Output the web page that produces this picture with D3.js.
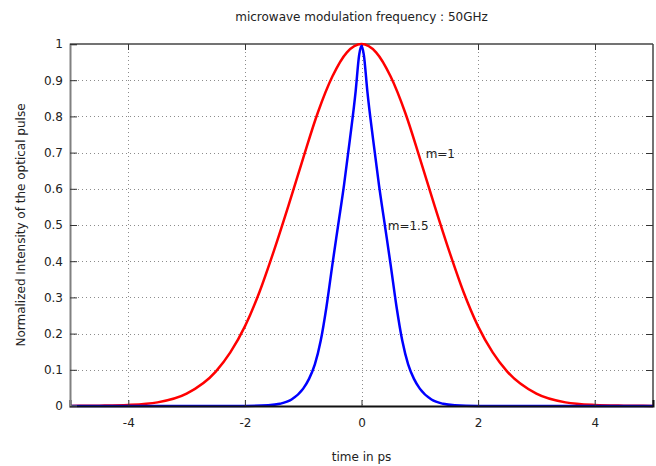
<!DOCTYPE html>
<html>
<head>
<meta charset="utf-8">
<script src="https://cdn.jsdelivr.net/npm/d3@7"></script>
<style>
  html, body { margin: 0; padding: 0; background: #ffffff; }
  svg { display: block; font-family: 'DejaVu Sans', Verdana, sans-serif; }
</style>
</head>
<body>
<svg id="chart" width="656" height="466"></svg>
<script>
// values
const xTicks = [-4, -2, 0, 2, 4];
const yTicks = [0, 0.1, 0.2, 0.3, 0.4, 0.5, 0.6, 0.7, 0.8, 0.9, 1];

// m = 1 (red)
const redTime = [-5, -4.5, -4, -3.5, -3, -2.5, -2.25, -2, -1.75, -1.5, -1.25, -1, -0.75, -0.5, -0.25,
  0, 0.25, 0.5, 0.75, 1, 1.25, 1.5, 1.75, 2, 2.25, 2.5, 3, 3.5, 4, 4.5, 5];
const redIntensity = [0.0002, 0.001, 0.003, 0.01, 0.034, 0.095, 0.148, 0.22, 0.315, 0.43, 0.555, 0.685, 0.81, 0.91, 0.977,
  1, 0.977, 0.91, 0.81, 0.685, 0.555, 0.43, 0.315, 0.22, 0.148, 0.095, 0.034, 0.01, 0.003, 0.001, 0.0002];

// m = 1.5 (blue)
const blueTime = [-5, -3, -2, -1.6, -1.4, -1.2, -1, -0.9, -0.8, -0.7, -0.6, -0.5, -0.4, -0.3, -0.2, -0.1, -0.04,
  0, 0.04, 0.1, 0.2, 0.3, 0.4, 0.5, 0.6, 0.7, 0.8, 0.9, 1, 1.2, 1.4, 1.6, 2, 3, 5];
const blueIntensity = [0, 0, 0.0003, 0.002, 0.006, 0.018, 0.048, 0.075, 0.115, 0.18, 0.275, 0.39, 0.5, 0.61, 0.735, 0.87, 0.97,
  0.995, 0.97, 0.87, 0.735, 0.61, 0.5, 0.39, 0.275, 0.18, 0.115, 0.075, 0.048, 0.018, 0.006, 0.002, 0.0003, 0, 0];

const titleText = 'microwave modulation frequency : 50GHz';
const xLabel = 'time in ps';
const yLabel = 'Normalized Intensity of the optical pulse';

const svg = d3.select('#chart');
const plot = { left: 70, right: 653, top: 44, bottom: 406 };

const x = d3.scaleLinear().domain([-5, 5]).range([plot.left, plot.right]);
const y = d3.scaleLinear().domain([0, 1]).range([plot.bottom, plot.top]);

// dotted grid
const grid = svg.append('g').attr('class', 'grid')
  .attr('stroke', '#8c8c8c')
  .attr('stroke-width', 1)
  .attr('stroke-dasharray', '1,3');

grid.selectAll('.gx')
  .data(xTicks)
  .join('line')
  .attr('class', 'gx')
  .attr('x1', d => Math.round(x(d)) + 0.5)
  .attr('x2', d => Math.round(x(d)) + 0.5)
  .attr('y1', plot.top)
  .attr('y2', plot.bottom);

grid.selectAll('.gy')
  .data(yTicks.filter(d => d > 0 && d < 1))
  .join('line')
  .attr('class', 'gy')
  .attr('x1', plot.left)
  .attr('x2', plot.right)
  .attr('y1', d => Math.round(y(d)) + 0.5)
  .attr('y2', d => Math.round(y(d)) + 0.5);

// frame: top and right border
svg.append('line')
  .attr('x1', plot.left).attr('x2', plot.right)
  .attr('y1', plot.top).attr('y2', plot.top)
  .attr('stroke', '#444').attr('stroke-width', 1.5);
svg.append('line')
  .attr('x1', plot.right).attr('x2', plot.right)
  .attr('y1', plot.top).attr('y2', plot.bottom)
  .attr('stroke', '#444').attr('stroke-width', 1.5);

// mirrored ticks on top / right
svg.append('g').selectAll('line')
  .data(xTicks)
  .join('line')
  .attr('x1', d => Math.round(x(d)) + 0.5)
  .attr('x2', d => Math.round(x(d)) + 0.5)
  .attr('y1', plot.top)
  .attr('y2', plot.top + 6)
  .attr('stroke', '#333');
svg.append('g').selectAll('line')
  .data(yTicks.filter(d => d > 0 && d < 1))
  .join('line')
  .attr('x1', plot.right - 7)
  .attr('x2', plot.right)
  .attr('y1', d => Math.round(y(d)) + 0.5)
  .attr('y2', d => Math.round(y(d)) + 0.5)
  .attr('stroke', '#333');

// curves
const line = d3.line()
  .x(d => x(d[0]))
  .y(d => y(d[1]))
  .curve(d3.curveMonotoneX);

const redPoints = redTime.map((t, i) => [t, redIntensity[i]]);
const bluePoints = blueTime.map((t, i) => [t, blueIntensity[i]]);

svg.append('path')
  .datum(redPoints)
  .attr('fill', 'none')
  .attr('stroke', '#ff0000')
  .attr('stroke-width', 2.5)
  .attr('d', line);

svg.append('path')
  .datum(bluePoints)
  .attr('fill', 'none')
  .attr('stroke', '#0000ff')
  .attr('stroke-width', 2.5)
  .attr('d', line);

// bottom axis
const xAxis = d3.axisBottom(x)
  .tickValues(xTicks)
  .tickSize(-6)
  .tickPadding(12)
  .tickFormat(d => String(d).replace('\u2212', '-'));

const gx = svg.append('g')
  .attr('transform', `translate(0,${plot.bottom})`)
  .call(xAxis);
gx.select('.domain').attr('stroke', '#111').attr('stroke-width', 2);
gx.selectAll('.tick line').attr('stroke', '#333');
gx.selectAll('.tick text')
  .attr('fill', '#222')
  .attr('font-size', 12)
  .attr('font-family', "'DejaVu Sans', Verdana, sans-serif");

// left axis
const yAxis = d3.axisLeft(y)
  .tickValues(yTicks)
  .tickSize(-7)
  .tickPadding(7)
  .tickFormat(d3.format('~g'));

const gy = svg.append('g')
  .attr('transform', `translate(${plot.left},0)`)
  .call(yAxis);
gy.select('.domain').attr('stroke', '#808080').attr('stroke-width', 2);
gy.selectAll('.tick line').attr('stroke', '#333');
gy.selectAll('.tick text')
  .attr('fill', '#222')
  .attr('font-size', 12)
  .attr('font-family', "'DejaVu Sans', Verdana, sans-serif");

// labels
svg.append('text')
  .attr('x', (plot.left + plot.right) / 2)
  .attr('y', 21)
  .attr('text-anchor', 'middle')
  .attr('font-size', 12)
  .attr('fill', '#222')
  .text(titleText);

svg.append('text')
  .attr('x', (plot.left + plot.right) / 2)
  .attr('y', 461)
  .attr('text-anchor', 'middle')
  .attr('font-size', 12)
  .attr('fill', '#222')
  .text(xLabel);

svg.append('text')
  .attr('transform', `translate(25,${(plot.top + plot.bottom) / 2}) rotate(-90)`)
  .attr('text-anchor', 'middle')
  .attr('font-size', 12)
  .attr('fill', '#222')
  .text(yLabel);

// curve annotations
svg.append('text')
  .attr('x', x(1.1))
  .attr('y', y(0.685))
  .attr('font-size', 12)
  .attr('fill', '#222')
  .text('m=1');

svg.append('text')
  .attr('x', x(0.45))
  .attr('y', y(0.485))
  .attr('font-size', 12)
  .attr('fill', '#222')
  .text('m=1.5');
</script>
</body>
</html>
